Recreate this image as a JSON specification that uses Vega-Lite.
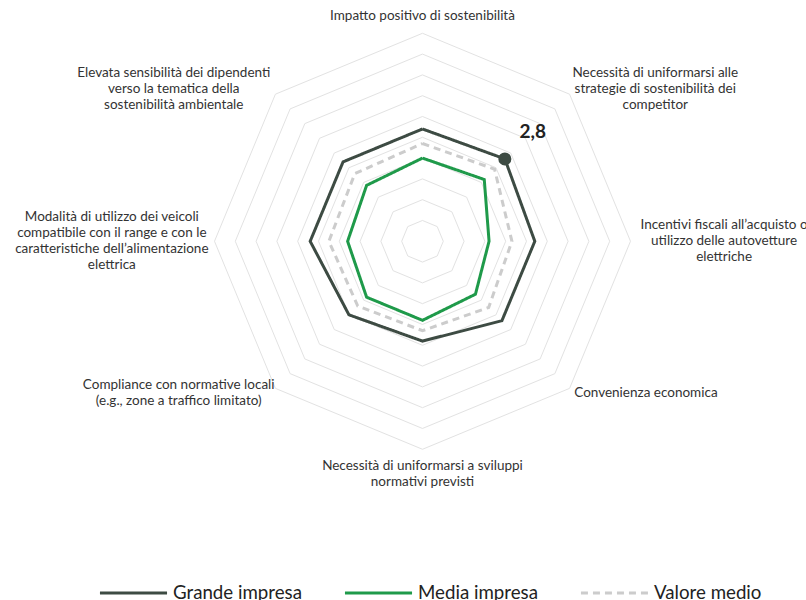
{
  "$schema": "https://vega.github.io/schema/vega-lite/v6.json",
  "width": 806,
  "height": 600,
  "autosize": "none",
  "padding": 0,
  "background": "white",
  "config": {
    "view": {"stroke": null},
    "font": "Lato",
    "legend": {
      "orient": "none",
      "legendX": 98,
      "legendY": 557,
      "direction": "horizontal",
      "symbolType": "stroke",
      "symbolSize": 4500,
      "symbolStrokeWidth": 3,
      "labelFontSize": 18.7,
      "labelFont": "Lato",
      "labelColor": "#222222",
      "columnPadding": 36,
      "labelOffset": 4,
      "padding": 0
    }
  },
  "datasets": {
    "pts": [
      {"series": "Grande impresa", "k": 0, "value": 2.7},
      {"series": "Grande impresa", "k": 1, "value": 2.8},
      {"series": "Grande impresa", "k": 2, "value": 2.7},
      {"series": "Grande impresa", "k": 3, "value": 2.7},
      {"series": "Grande impresa", "k": 4, "value": 2.4},
      {"series": "Grande impresa", "k": 5, "value": 2.5},
      {"series": "Grande impresa", "k": 6, "value": 2.7},
      {"series": "Grande impresa", "k": 7, "value": 2.7},
      {"series": "Grande impresa", "k": 8, "value": 2.7},
      {"series": "Media impresa", "k": 0, "value": 2.0},
      {"series": "Media impresa", "k": 1, "value": 2.1},
      {"series": "Media impresa", "k": 2, "value": 1.6},
      {"series": "Media impresa", "k": 3, "value": 1.8},
      {"series": "Media impresa", "k": 4, "value": 1.9},
      {"series": "Media impresa", "k": 5, "value": 1.9},
      {"series": "Media impresa", "k": 6, "value": 1.8},
      {"series": "Media impresa", "k": 7, "value": 1.9},
      {"series": "Media impresa", "k": 8, "value": 2.0},
      {"series": "Valore medio", "k": 0, "value": 2.35},
      {"series": "Valore medio", "k": 1, "value": 2.45},
      {"series": "Valore medio", "k": 2, "value": 2.15},
      {"series": "Valore medio", "k": 3, "value": 2.25},
      {"series": "Valore medio", "k": 4, "value": 2.15},
      {"series": "Valore medio", "k": 5, "value": 2.2},
      {"series": "Valore medio", "k": 6, "value": 2.25},
      {"series": "Valore medio", "k": 7, "value": 2.3},
      {"series": "Valore medio", "k": 8, "value": 2.35}
    ],
    "rings": [
      {"lvl": 0.5, "k": [0,1,2,3,4,5,6,7,8]},
      {"lvl": 1.0, "k": [0,1,2,3,4,5,6,7,8]},
      {"lvl": 1.5, "k": [0,1,2,3,4,5,6,7,8]},
      {"lvl": 2.0, "k": [0,1,2,3,4,5,6,7,8]},
      {"lvl": 2.5, "k": [0,1,2,3,4,5,6,7,8]},
      {"lvl": 3.0, "k": [0,1,2,3,4,5,6,7,8]},
      {"lvl": 3.5, "k": [0,1,2,3,4,5,6,7,8]},
      {"lvl": 4.0, "k": [0,1,2,3,4,5,6,7,8]},
      {"lvl": 4.5, "k": [0,1,2,3,4,5,6,7,8]},
      {"lvl": 5.0, "k": [0,1,2,3,4,5,6,7,8]}
    ],
    "axes": [
      {"k": 0, "lines": ["Impatto positivo di sostenibilità"]},
      {"k": 1, "lines": ["Necessità di uniformarsi alle", "strategie di sostenibilità dei", "competitor"]},
      {"k": 2, "lines": ["Incentivi fiscali all’acquisto o", "utilizzo delle autovetture", "elettriche"]},
      {"k": 3, "lines": ["Convenienza economica"]},
      {"k": 4, "lines": ["Necessità di uniformarsi a sviluppi", "normativi previsti"]},
      {"k": 5, "lines": ["Compliance con normative locali", "(e.g., zone a traffico limitato)"]},
      {"k": 6, "lines": ["Modalità di utilizzo dei veicoli", "compatibile con il range e con le", "caratteristiche dell’alimentazione", "elettrica"]},
      {"k": 7, "lines": ["Elevata sensibilità dei dipendenti", "verso la tematica della", "sostenibilità ambientale"]}
    ]
  },
  "encoding": {
    "x": {"field": "x", "type": "quantitative", "scale": {"domain": [-10.156, 9.219], "nice": false, "zero": false}, "axis": null},
    "y": {"field": "y", "type": "quantitative", "scale": {"domain": [-8.623, 5.8], "nice": false, "zero": false}, "axis": null}
  },
  "layer": [
    {
      "data": {"name": "rings"},
      "transform": [
        {"flatten": ["k"]},
        {"calculate": "datum.lvl * sin(datum.k * PI / 4)", "as": "x"},
        {"calculate": "datum.lvl * cos(datum.k * PI / 4)", "as": "y"}
      ],
      "mark": {"type": "line", "stroke": "#e2e2e2", "strokeWidth": 1},
      "encoding": {
        "detail": {"field": "lvl", "type": "nominal"},
        "order": {"field": "k", "type": "quantitative"}
      }
    },
    {
      "data": {"name": "pts"},
      "transform": [
        {"calculate": "datum.value * sin(datum.k * PI / 4)", "as": "x"},
        {"calculate": "datum.value * cos(datum.k * PI / 4)", "as": "y"}
      ],
      "mark": {"type": "line", "strokeWidth": 3},
      "encoding": {
        "color": {"field": "series", "type": "nominal",
          "scale": {"domain": ["Grande impresa", "Media impresa", "Valore medio"], "range": ["#3d4b43", "#1f9a4a", "#cccccc"]},
          "legend": {"title": null}},
        "strokeDash": {"field": "series", "type": "nominal",
          "scale": {"domain": ["Grande impresa", "Media impresa", "Valore medio"], "range": [[1, 0], [1, 0], [7, 5]]},
          "legend": {"title": null}},
        "order": {"field": "k", "type": "quantitative"}
      }
    },
    {
      "data": {"name": "pts"},
      "transform": [
        {"filter": "datum.series == 'Grande impresa' && datum.k == 1"},
        {"calculate": "datum.value * sin(datum.k * PI / 4)", "as": "x"},
        {"calculate": "datum.value * cos(datum.k * PI / 4)", "as": "y"}
      ],
      "mark": {"type": "point", "filled": true, "opacity": 1, "size": 170, "color": "#3d4b43"}
    },
    {
      "data": {"name": "pts"},
      "transform": [
        {"filter": "datum.series == 'Grande impresa' && datum.k == 1"},
        {"calculate": "datum.value * sin(datum.k * PI / 4)", "as": "x"},
        {"calculate": "datum.value * cos(datum.k * PI / 4)", "as": "y"},
        {"calculate": "replace(format(datum.value, '.1f'), '.', ',')", "as": "lab"}
      ],
      "mark": {"type": "text", "dx": 28, "dy": -27, "fontSize": 19, "fontWeight": "bold", "font": "Lato", "color": "#222222", "align": "center", "baseline": "middle"},
      "encoding": {"text": {"field": "lab"}}
    },
    {
      "data": {"name": "axes"},
      "transform": [
        {"flatten": ["lines"], "as": ["line"]},
        {"window": [{"op": "row_number", "as": "rn"}], "groupby": ["k"]},
        {"calculate": "length(datum.line)", "as": "len"},
        {"calculate": "length(replace(datum.line, regexp('[iltfjIr.,’()\\u0027 ]', 'g'), ''))", "as": "wide"},
        {"calculate": "datum.wide * 7.15 + (datum.len - datum.wide) * 3.3", "as": "wpx"},
        {"joinaggregate": [{"op": "max", "field": "wpx", "as": "mw"}, {"op": "count", "as": "n"}], "groupby": ["k"]},
        {"calculate": "datum.rn - 1", "as": "li"},
        {"calculate": "(datum.k >= 1 && datum.k <= 3) ? 1 : ((datum.k >= 5 && datum.k <= 7) ? -1 : 0)", "as": "side"},
        {"calculate": "5.24 * sin(datum.k * PI / 4) + datum.side * datum.mw / 2 / 41.6", "as": "x"},
        {"calculate": "5.17 * cos(datum.k * PI / 4) + (datum.k == 0 ? 0.25 + (datum.n - 1 - datum.li) * 0.385 : (datum.k == 4 ? -0.22 - datum.li * 0.385 : ((datum.n - 1) / 2 - datum.li) * 0.385))", "as": "y"}
      ],
      "mark": {"type": "text", "align": "center", "baseline": "middle", "font": "Lato", "fontSize": 13.5, "color": "#333333"},
      "encoding": {"text": {"field": "line"}}
    }
  ],
  "resolve": {"scale": {"x": "shared", "y": "shared"}}
}
